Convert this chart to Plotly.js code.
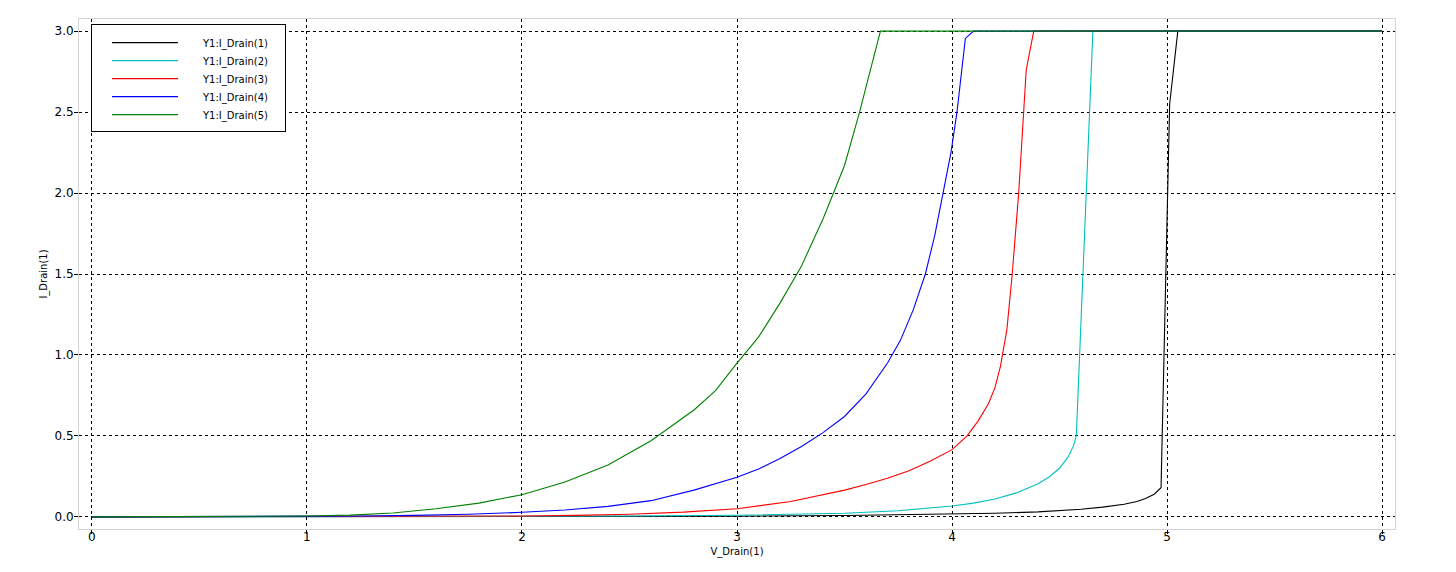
<!DOCTYPE html>
<html>
<head>
<meta charset="utf-8">
<script src="https://cdn.plot.ly/plotly-3.0.1.min.js"></script>
<style>html,body{margin:0;padding:0;background:#fff;}#chart{width:1456px;height:572px;}</style>
</head>
<body>
<div id="chart"></div>
<script>
// Series names
var seriesNames = ["Y1:I_Drain(1)", "Y1:I_Drain(2)", "Y1:I_Drain(3)", "Y1:I_Drain(4)", "Y1:I_Drain(5)"];
var seriesColors = ["#000000", "#00bfbf", "#ff0000", "#0000ff", "#008000"];

// Series 1 (black)
var x1 = [0, 1, 2, 2.5, 3, 3.5, 4, 4.2, 4.4, 4.6, 4.7, 4.8, 4.86, 4.9, 4.94, 4.972, 5.012, 5.05, 6];
var y1 = [0, 0.0003, 0.001, 0.002, 0.004, 0.008, 0.016, 0.022, 0.031, 0.047, 0.06, 0.078, 0.095, 0.113, 0.14, 0.18, 2.55, 3.0, 3.0];

// Series 2 (cyan)
var x2 = [0, 1, 2, 2.5, 3, 3.25, 3.5, 3.75, 4.0, 4.1, 4.2, 4.3, 4.4, 4.45, 4.5, 4.54, 4.565, 4.578, 4.655, 6];
var y2 = [0, 0.0003, 0.002, 0.005, 0.01, 0.015, 0.022, 0.038, 0.067, 0.085, 0.11, 0.148, 0.205, 0.245, 0.3, 0.37, 0.44, 0.5, 3.0, 3.0];

// Series 3 (red)
var x3 = [0, 1, 1.5, 2, 2.25, 2.5, 2.75, 3, 3.25, 3.5, 3.6, 3.7, 3.8, 3.9, 4.0, 4.07, 4.12, 4.17, 4.2, 4.225, 4.255, 4.28, 4.31, 4.335, 4.345, 4.38, 6];
var y3 = [0, 0.0008, 0.002, 0.005, 0.009, 0.016, 0.029, 0.05, 0.095, 0.165, 0.2, 0.238, 0.285, 0.345, 0.415, 0.5, 0.59, 0.7, 0.8, 0.93, 1.155, 1.5, 2.0, 2.5, 2.76, 3.0, 3.0];

// Series 4 (blue)
var x4 = [0, 0.5, 1, 1.25, 1.5, 1.75, 2, 2.2, 2.4, 2.6, 2.8, 3.0, 3.1, 3.2, 3.3, 3.4, 3.5, 3.6, 3.7, 3.76, 3.82, 3.876, 3.92, 3.96, 3.995, 4.023, 4.062, 4.10, 6];
var y4 = [0, 0.0005, 0.002, 0.005, 0.009, 0.016, 0.028, 0.042, 0.065, 0.1, 0.165, 0.245, 0.295, 0.36, 0.435, 0.52, 0.62, 0.76, 0.95, 1.09, 1.28, 1.5, 1.74, 2.0, 2.25, 2.5, 2.955, 3.0, 3.0];

// Series 5 (green)
var x5 = [0, 0.25, 0.5, 0.75, 1, 1.2, 1.4, 1.6, 1.8, 2, 2.2, 2.4, 2.6, 2.8, 2.9, 3.0, 3.1, 3.2, 3.3, 3.4, 3.5, 3.57, 3.6, 3.667, 6];
var y5 = [0, 0.0002, 0.0008, 0.0025, 0.005, 0.011, 0.024, 0.05, 0.085, 0.137, 0.215, 0.32, 0.47, 0.66, 0.78, 0.95, 1.11, 1.32, 1.55, 1.84, 2.17, 2.5, 2.65, 3.0, 3.0];

// Axis ticks
var xTicks = [0, 1, 2, 3, 4, 5, 6];
var yTicks = [0.0, 0.5, 1.0, 1.5, 2.0, 2.5, 3.0];
var xTitle = "V_Drain(1)";
var yTitle = "I_Drain(1)";

var xs = [x1, x2, x3, x4, x5];
var ys = [y1, y2, y3, y4, y5];
var traces = [];
for (var i = 0; i < 5; i++) {
  traces.push({
    type: "scatter", mode: "lines", x: xs[i], y: ys[i], name: seriesNames[i],
    line: {color: seriesColors[i], width: 1.1}
  });
}

var font = "DejaVu Sans, Arial, sans-serif";
var layout = {
  width: 1456, height: 572,
  margin: {l: 79, r: 61, t: 19, b: 43},
  paper_bgcolor: "#ffffff", plot_bgcolor: "#ffffff",
  font: {family: font, size: 12, color: "#000"},
  showlegend: true,
  legend: {
    x: 0.0091, y: 0.99, xanchor: "left", yanchor: "top",
    bgcolor: "#ffffff", bordercolor: "#000000", borderwidth: 1,
    font: {family: font, size: 10, color: "#000"},
    itemwidth: 101, tracegroupgap: 0
  },
  xaxis: {
    range: [-0.06, 6.06], tickvals: xTicks, ticktext: xTicks.map(function(v){return String(v);}),
    showgrid: true, gridcolor: "#000000", griddash: "dot", gridwidth: 1,
    zeroline: false, showline: true, mirror: true, linecolor: "#d4d4d4", linewidth: 1,
    ticks: "outside", ticklen: 4, tickcolor: "#000", tickwidth: 1,
    ticklabelstandoff: -7,
    tickfont: {family: font, size: 12, color: "#000"},
    title: {text: xTitle, font: {family: font, size: 10, color: "#000"}, standoff: 4}
  },
  yaxis: {
    range: [-0.075, 3.075], tickvals: yTicks, ticktext: yTicks.map(function(v){return v.toFixed(1);}),
    showgrid: true, gridcolor: "#000000", griddash: "dot", gridwidth: 1,
    zeroline: false, showline: true, mirror: true, linecolor: "#d4d4d4", linewidth: 1,
    ticks: "outside", ticklen: 4, tickcolor: "#000", tickwidth: 1,
    ticklabelstandoff: -2,
    tickfont: {family: font, size: 12, color: "#000"},
    title: {text: yTitle, font: {family: font, size: 10, color: "#000"}, standoff: 5}
  }
};

Plotly.newPlot("chart", traces, layout, {displayModeBar: false, staticPlot: true}).then(function(gd){
  // stretch the legend sample lines and tighten the rows like the reference
  gd.querySelectorAll(".legend .legendlines path").forEach(function(p){ p.setAttribute("d", "M20,0h66"); });
  gd.querySelectorAll(".legend .traces").forEach(function(g, i){
    var t = g.getAttribute("transform") || "";
    var m = /translate\(\s*([-\d.e]+)[ ,]+([-\d.e]+)\s*\)/.exec(t);
    if (m) {
      var tx = parseFloat(m[1]), ty = parseFloat(m[2]);
      g.setAttribute("transform", "translate(" + tx + "," + (ty + 3 - i) + ")");
    }
  });
  var bg = gd.querySelector(".legend rect.bg");
  if (bg) { bg.setAttribute("width", 194); bg.setAttribute("height", 107); }
});
</script>
</body>
</html>
